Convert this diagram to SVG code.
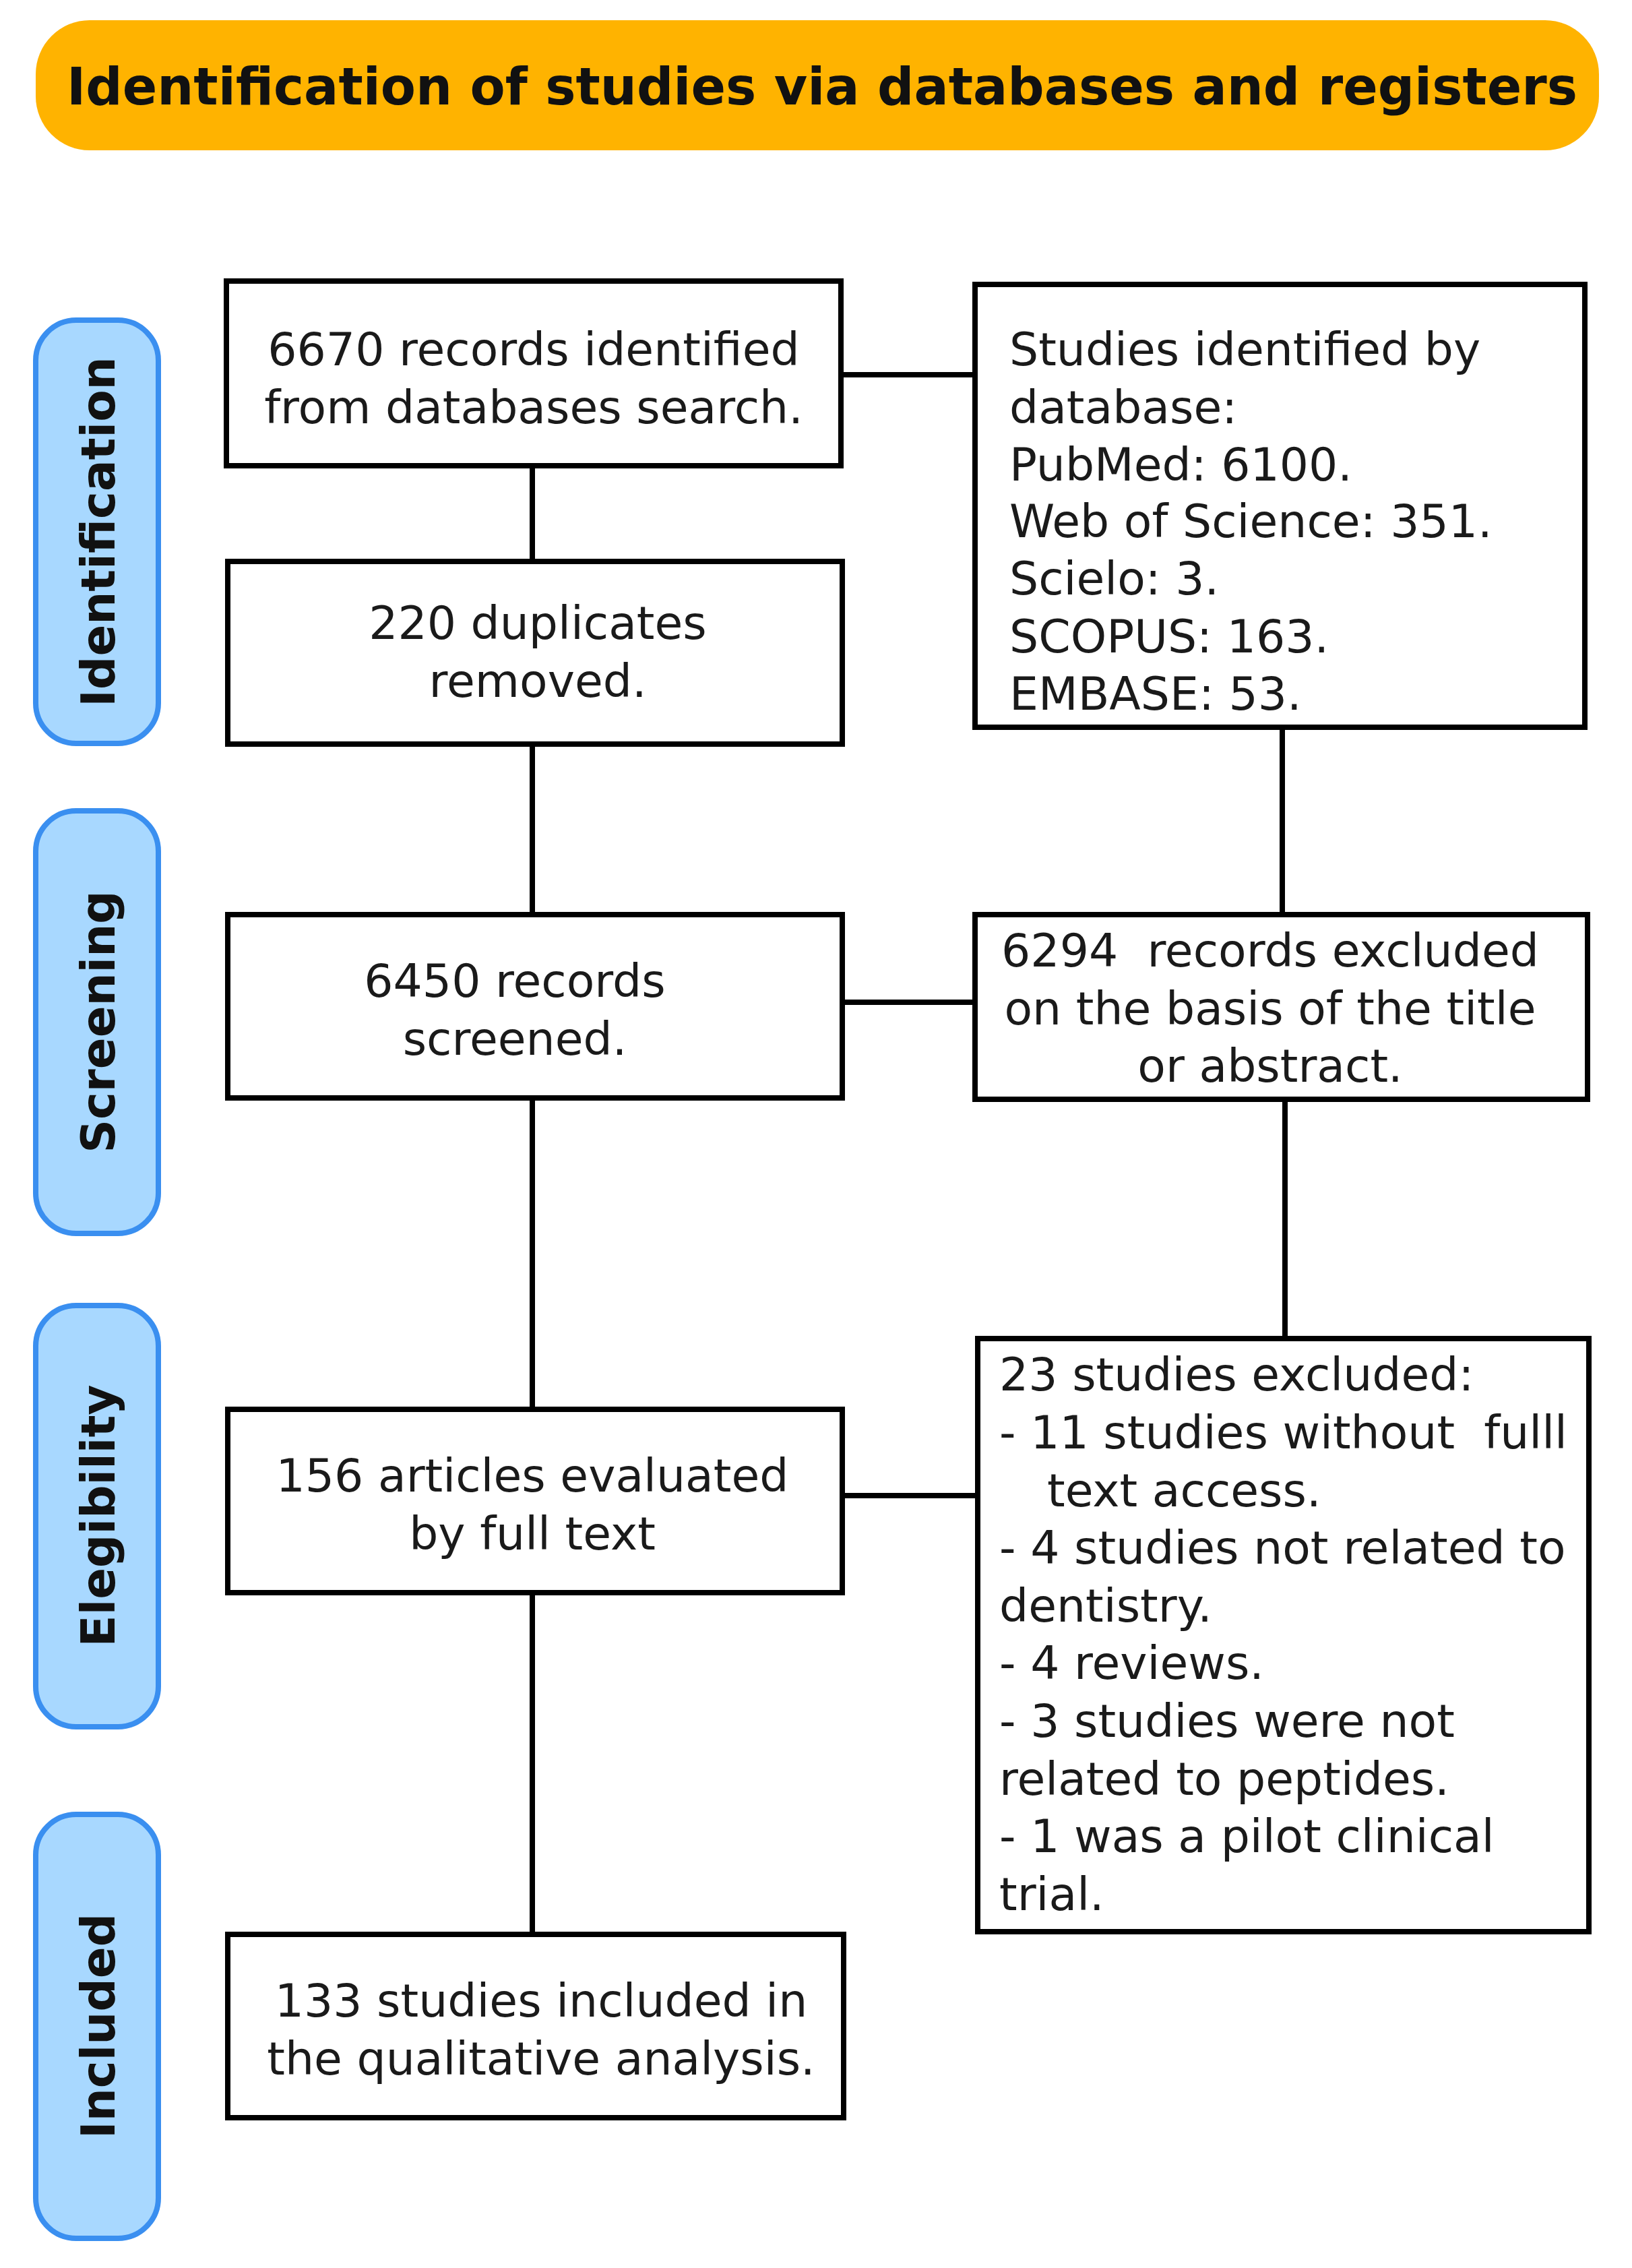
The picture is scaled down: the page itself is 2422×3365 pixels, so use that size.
<svg xmlns="http://www.w3.org/2000/svg" width="2422" height="3365" viewBox="0 0 2422 3365">
<style>
.b{fill:#fff;stroke:#000;stroke-width:8}
.s{fill:#A8D8FF;stroke:#3A8FF0;stroke-width:8}
.t{font-family:"DejaVu Sans",Verdana,sans-serif;font-size:68px;fill:#1a1a1a;dominant-baseline:central}
.c{text-anchor:middle}
.h{font-family:"DejaVu Sans",Verdana,sans-serif;font-weight:bold;font-size:69px;fill:#111;dominant-baseline:central;text-anchor:middle}
.l{stroke:#000;stroke-width:8;fill:none}
</style>
<rect width="2422" height="3365" fill="#fff"/>
<g id="header"><rect x="53" y="30" width="2320" height="193" rx="80" fill="#FFB300"/><text class="h" x="1220" y="128" style="font-size:76px">Identification of studies via databases and registers</text></g>
<g id="phase-identification"><rect class="s" x="53" y="475" width="182" height="628" rx="60"/><text class="h" transform="translate(146 789) rotate(-90)">Identification</text></g>
<g id="phase-screening"><rect class="s" x="53" y="1203" width="182" height="627" rx="60"/><text class="h" transform="translate(146 1516) rotate(-90)">Screening</text></g>
<g id="phase-elegibility"><rect class="s" x="53" y="1937" width="182" height="625" rx="60"/><text class="h" transform="translate(146 2249) rotate(-90)">Elegibility</text></g>
<g id="phase-included"><rect class="s" x="53" y="2692" width="182" height="629" rx="60"/><text class="h" transform="translate(146 3006) rotate(-90)">Included</text></g>
<g id="connectors">
<path class="l" d="M790 691V833M790 1104V1357M790 1629V2091M790 2363V2870M1248 556H1447M1250 1487H1447M1250 2219H1451M1903 1079V1357M1907 1631V1986"/>
</g>
<g id="records"><rect class="b" x="336" y="417" width="912" height="274"/><text class="t c" x="792" y="518">6670 records identified</text><text class="t c" x="792" y="604">from databases search.</text></g>
<g id="databases"><rect class="b" x="1447" y="422" width="905" height="657"/>
<text class="t" x="1498" y="518">Studies identified by</text><text class="t" x="1498" y="604">database:</text><text class="t" x="1498" y="689">PubMed: 6100.</text><text class="t" x="1498" y="773">Web of Science: 351.</text><text class="t" x="1498" y="858">Scielo: 3.</text><text class="t" x="1498" y="944">SCOPUS: 163.</text><text class="t" x="1498" y="1029">EMBASE: 53.</text></g>
<g id="duplicates"><rect class="b" x="338" y="833" width="912" height="271"/><text class="t c" x="798" y="924">220 duplicates</text><text class="t c" x="798" y="1010">removed.</text></g>
<g id="screened"><rect class="b" x="338" y="1357" width="912" height="272"/><text class="t c" x="764" y="1455">6450 records</text><text class="t c" x="764" y="1541">screened.</text></g>
<g id="excluded1"><rect class="b" x="1447" y="1357" width="909" height="274"/><text class="t c" x="1885" y="1410" xml:space="preserve">6294  records excluded</text><text class="t c" x="1885" y="1496">on the basis of the title</text><text class="t c" x="1885" y="1581">or abstract.</text></g>
<g id="fulltext"><rect class="b" x="338" y="2091" width="912" height="272"/><text class="t c" x="790" y="2189">156 articles evaluated</text><text class="t c" x="790" y="2275">by full text</text></g>
<g id="excluded2"><rect class="b" x="1451" y="1986" width="907" height="880"/>
<text class="t" x="1483" y="2039">23 studies excluded:</text><text class="t" x="1483" y="2125" xml:space="preserve">- 11 studies without  fulll</text><text class="t" x="1554" y="2211">text access.</text><text class="t" x="1483" y="2296">- 4 studies not related to</text><text class="t" x="1483" y="2382">dentistry.</text><text class="t" x="1483" y="2467">- 4 reviews.</text><text class="t" x="1483" y="2553">- 3 studies were not</text><text class="t" x="1483" y="2639">related to peptides.</text><text class="t" x="1483" y="2724">- 1 was a pilot clinical</text><text class="t" x="1483" y="2810">trial.</text></g>
<g id="included"><rect class="b" x="338" y="2870" width="914" height="272"/><text class="t c" x="803" y="2968">133 studies included in</text><text class="t c" x="803" y="3054">the qualitative analysis.</text></g>
</svg>
